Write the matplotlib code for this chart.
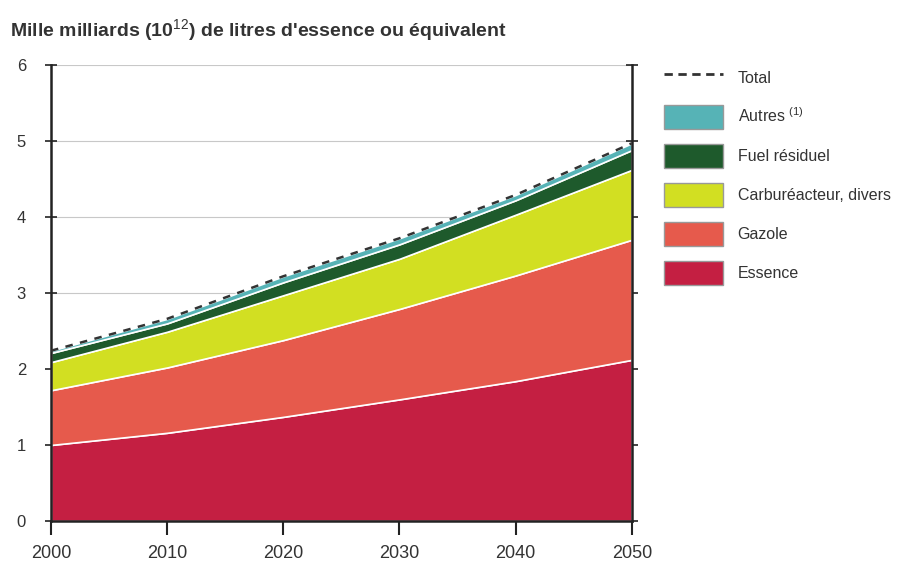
import matplotlib
matplotlib.use('Agg')
import matplotlib.pyplot as plt
from matplotlib.patches import Patch
from matplotlib.lines import Line2D

# annees
Years = [2000, 2010, 2020, 2030, 2040, 2050]

# consommation par carburant (mille milliards de litres)
Essence = [1.00, 1.16, 1.37, 1.60, 1.84, 2.12]
Gazole = [0.72, 0.86, 1.01, 1.19, 1.39, 1.58]
Carbu = [0.37, 0.47, 0.59, 0.66, 0.80, 0.92]
Fuel = [0.12, 0.11, 0.17, 0.19, 0.19, 0.26]
Autres = [0.03, 0.06, 0.08, 0.08, 0.07, 0.09]
Total = [a + b + c + d + e for a, b, c, d, e in zip(Essence, Gazole, Carbu, Fuel, Autres)]

Labels = ['Essence', 'Gazole', 'Carburéacteur, divers', 'Fuel résiduel', 'Autres $^{(1)}$']
Colors = ['#c41f42', '#e65a4c', '#d2df22', '#1e5a2c', '#56b3b6']

plt.rcParams['font.family'] = ['Liberation Sans', 'DejaVu Sans']
plt.rcParams['mathtext.fontset'] = 'custom'
plt.rcParams['mathtext.rm'] = 'Liberation Sans'
plt.rcParams['mathtext.bf'] = 'Liberation Sans:bold'

fig = plt.figure(figsize=(9.19, 5.69), dpi=100)
ax = fig.add_axes([0.0555, 0.0844, 0.632, 0.8014])

ax.set_xlim(2000, 2050)
ax.set_ylim(0, 6)
for y in range(1, 7):
    ax.axhline(y, color='#c8c8c8', lw=0.8, zorder=0)

ax.stackplot(Years, Essence, Gazole, Carbu, Fuel, Autres, colors=Colors,
             edgecolor='white', linewidth=1.2, zorder=2)
ax.plot(Years, Total, color='#333333', ls=(0, (3, 3)), lw=1.8, zorder=3)

ax.spines['top'].set_visible(False)
for s in ['left', 'bottom', 'right']:
    ax.spines[s].set_color('#222222')
    ax.spines[s].set_linewidth(1.8)

ax.set_xticks([2000, 2010, 2020, 2030, 2040, 2050])
ax.set_yticks(range(0, 7))
ax.tick_params(axis='x', direction='out', length=10, width=1.5, color='#222222',
               labelsize=13, pad=7, labelcolor='#333333')
ax.tick_params(axis='y', direction='inout', length=8, width=1.2, color='#222222',
               labelsize=12, pad=14, right=True, labelcolor='#333333')
ax.set_yticklabels([str(v) for v in range(0, 7)])

fig.text(0.011, 0.935, "Mille milliards (10$^{12}$) de litres d'essence ou équivalent",
         fontsize=14, fontweight='bold', color='#333333')

handles = [Line2D([0], [0], color='#333333', ls=(0, (3, 2)), lw=2)]
handles += [Patch(facecolor=Colors[i], edgecolor='#999999') for i in [4, 3, 2, 1, 0]]
names = ['Total'] + [Labels[i] for i in [4, 3, 2, 1, 0]]
fig.legend(handles, names, loc='upper left', bbox_to_anchor=(0.707, 0.91),
           frameon=False, fontsize=11.5, handlelength=3.7, handleheight=1.95,
           labelspacing=0.93, handletextpad=0.9, labelcolor='#333333')

plt.savefig('out.png', dpi=100)
